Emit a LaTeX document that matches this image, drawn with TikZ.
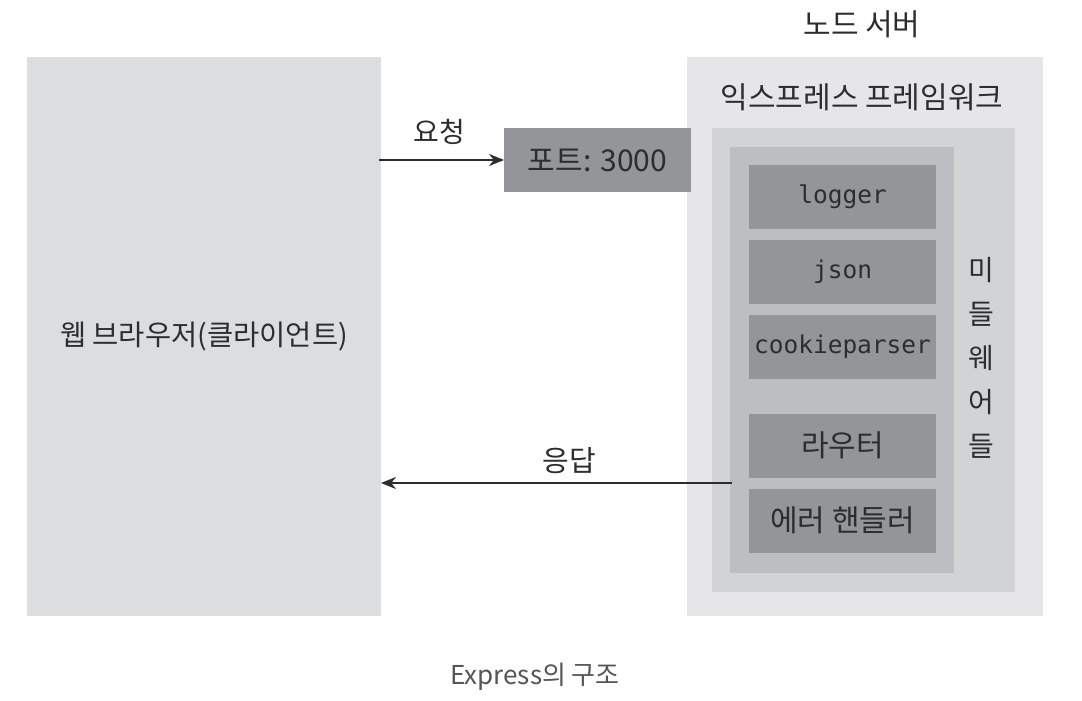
\documentclass[tikz,border=0pt]{standalone}
\usepackage{fontspec}
\setmainfont{Noto Sans CJK KR}
\newfontfamily\monofont{DejaVu Sans Mono}
\usetikzlibrary{arrows.meta}
\definecolor{browsercol}{RGB}{220,221,223}
\definecolor{servercol}{RGB}{230,230,232}
\definecolor{expresscol}{RGB}{210,211,213}
\definecolor{mwcol}{RGB}{189,190,193}
\definecolor{itemcol}{RGB}{148,149,153}
\definecolor{txtcol}{RGB}{45,45,48}
\definecolor{capcol}{RGB}{85,85,85}
\tikzset{
  panel/.style={inner sep=0pt, outer sep=0pt},
  itembox/.style={panel, fill=itemcol, minimum width=187pt, minimum height=64pt, text=txtcol},
  kor/.style={font=\fontsize{30}{34}\selectfont, text=txtcol},
  monotext/.style={font=\monofont\fontsize{24.5}{28}\selectfont},
  conn/.style={draw=txtcol, line width=1.5pt, -{Stealth[length=15pt,width=12pt]}},
}
\begin{document}
\begin{tikzpicture}[x=1pt,y=-1pt]
\useasboundingbox[fill=white] (0,0) rectangle (1082,701);
% browser
\node[panel, fill=browsercol, minimum width=354pt, minimum height=559pt, kor, font=\fontsize{28.5}{32}\selectfont] (browser) at (204,336.5) {웹 브라우저(클라이언트)};
% server
\node[panel, fill=servercol, minimum width=356pt, minimum height=559pt] (server) at (865,336.5) {};
\node[kor] (servertitle) at (862,24) {노드 서버};
\node[panel, fill=expresscol, minimum width=303pt, minimum height=464pt] (express) at (863.5,360) {};
\node[kor] (expresstitle) at (862,97) {익스프레스 프레임워크};
\node[panel, fill=mwcol, minimum width=224pt, minimum height=426pt] (mw) at (842,360) {};
\node[itembox, monotext] (logger) at (842.5,197) {logger};
\node[itembox, monotext] (json) at (842.5,272) {json};
\node[itembox, monotext] (cookie) at (842.5,347) {cookieparser};
\node[itembox, kor] (router) at (842.5,445.5) {라우터};
\node[itembox, kor] (errh) at (842.5,520.5) {에러 핸들러};
\node[align=center, text=txtcol, font=\fontsize{28}{44}\selectfont] (mwlabel) at (981,358) {미\\들\\웨\\어\\들};
% port
\node[itembox, minimum width=187pt, kor] (port) at (597.5,160) {포트: 3000};
% arrows
\coordinate (reqstart) at (379,160);
\draw[conn] (reqstart) -- (port.west);
\node[kor, font=\fontsize{28}{32}\selectfont] (reqlabel) at (439,132) {요청};
\coordinate (respstart) at (732,483);
\draw[conn] (respstart) -- (browser.east |- respstart);
\node[kor, font=\fontsize{29}{32}\selectfont] (resplabel) at (569,461) {응답};
% caption
\node[text=capcol, font=\fontsize{26}{30}\selectfont] (caption) at (535,677) {Express의 구조};
\end{tikzpicture}
\end{document}
